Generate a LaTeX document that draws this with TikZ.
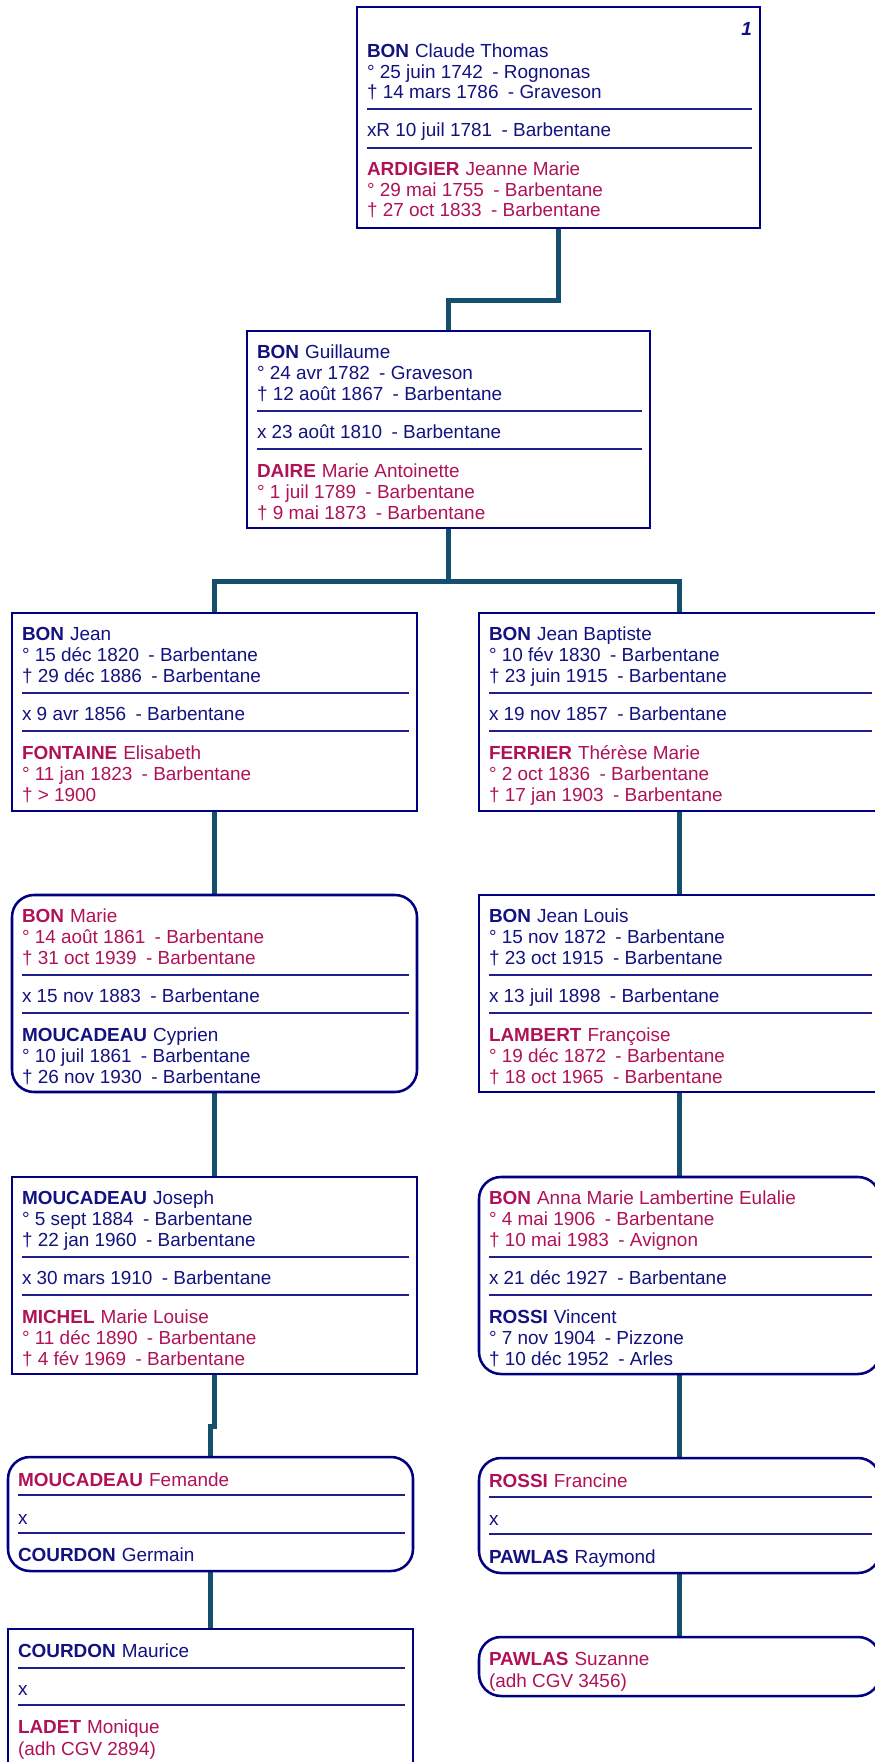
\documentclass[tikz,border=0pt]{standalone}
\usepackage{fontspec}
\setmainfont{Liberation Sans}
\usetikzlibrary{backgrounds}
\definecolor{bordc}{RGB}{0,0,128}
\definecolor{tblue}{RGB}{18,18,128}
\definecolor{tpink}{RGB}{176,18,88}
\definecolor{connc}{RGB}{20,80,110}
\definecolor{sepc}{RGB}{30,30,140}
\newcommand\mainf{\fontsize{14.2}{16}\selectfont}
\newcounter{tlc}
\newcommand\txl[4]{\stepcounter{tlc}\node[txt, text=#1] (t\arabic{tlc}) at (#2,{#3+7}) {#4};}
\newcommand\nm[2]{\textbf{#1}\hspace{4.5pt}#2}
\newcommand\ev[2]{#1\hspace{7pt}-\hspace{4pt}#2}
\newcommand\sepl[3]{\draw[sepline] (#1,#3) -- (#2,#3);}
\tikzset{
  box/.style={draw=bordc, line width=1.9pt, fill=white, inner sep=0pt, outer sep=0pt},
  sqbox/.style={box},
  rbox/.style={box, rounded corners=16.5pt},
  txt/.style={anchor=base west, inner sep=0pt, outer sep=0pt, font=\mainf},
  conn/.style={draw=connc, line width=3.75pt},
  sepline/.style={draw=sepc, line width=1.1pt},
}
\begin{document}
\begin{tikzpicture}[x=0.75pt,y=-0.75pt]
\useasboundingbox (0,0) rectangle (874,1762);
% boxes
\node[sqbox, minimum width=302.25pt, minimum height=165.75pt] (b1) at (558.5,117.5) {};
\node[sqbox, minimum width=302.25pt, minimum height=147.75pt] (b2) at (448.5,429.5) {};
\node[sqbox, minimum width=303.75pt, minimum height=148.5pt] (b3) at (214.5,712) {};
\node[sqbox, minimum width=300.75pt, minimum height=148.5pt] (b4) at (679.5,712) {};
\node[rbox, minimum width=303.75pt, minimum height=147.75pt] (b5) at (214.5,993.5) {};
\node[sqbox, minimum width=300.75pt, minimum height=147.75pt] (b6) at (679.5,993.5) {};
\node[sqbox, minimum width=303.75pt, minimum height=147.75pt] (b7) at (214.5,1275.5) {};
\node[rbox, minimum width=300.75pt, minimum height=147.75pt] (b8) at (679.5,1275.5) {};
\node[rbox, minimum width=303.75pt, minimum height=85.5pt] (b9) at (210.5,1514) {};
\node[rbox, minimum width=300.75pt, minimum height=86.25pt] (b10) at (679.5,1515.5) {};
\node[sqbox, minimum width=303.75pt, minimum height=113.25pt] (b11) at (210.5,1704.5) {};
\node[rbox, minimum width=300.75pt, minimum height=44.25pt] (b12) at (679.5,1666.5) {};
% connectors
\begin{scope}[on background layer]
\draw[conn] (b1.south) -- ++(0,72) -| (b2.north);
\draw[conn] (b2.south) -- ++(0,53) coordinate (j2);
\draw[conn] (b3.north) |- (j2) -| (b4.north);
\draw[conn] (b3.south) -- (b5.north);
\draw[conn] (b4.south) -- (b6.north);
\draw[conn] (b5.south) -- (b7.north);
\draw[conn] (b6.south) -- (b8.north);
\draw[conn] (b7.south) -- ++(0,52) -| (b9.north);
\draw[conn] (b8.south) -- (b10.north);
\draw[conn] (b9.south) -- (b11.north);
\draw[conn] (b10.south) -- (b12.north);
\end{scope}
% box 1
\node[txt, anchor=base east, text=tblue] (n1) at (752,36) {\textbf{\textit{1}}};
\txl{tblue}{367}{51}{\nm{BON}{Claude Thomas}}
\txl{tblue}{367}{72}{\ev{° 25 juin 1742}{Rognonas}}
\txl{tblue}{367}{92}{\ev{† 14 mars 1786}{Graveson}}
\sepl{367}{752}{109}
\txl{tblue}{367}{130}{\ev{xR 10 juil 1781}{Barbentane}}
\sepl{367}{752}{148}
\txl{tpink}{367}{169}{\nm{ARDIGIER}{Jeanne Marie}}
\txl{tpink}{367}{190}{\ev{° 29 mai 1755}{Barbentane}}
\txl{tpink}{367}{210}{\ev{† 27 oct 1833}{Barbentane}}
% box 2
\txl{tblue}{257}{351}{\nm{BON}{Guillaume}}
\txl{tblue}{257}{372}{\ev{° 24 avr 1782}{Graveson}}
\txl{tblue}{257}{393}{\ev{† 12 août 1867}{Barbentane}}
\sepl{257}{642}{411}
\txl{tblue}{257}{431}{\ev{x 23 août 1810}{Barbentane}}
\sepl{257}{642}{449}
\txl{tpink}{257}{470}{\nm{DAIRE}{Marie Antoinette}}
\txl{tpink}{257}{491}{\ev{° 1 juil 1789}{Barbentane}}
\txl{tpink}{257}{512}{\ev{† 9 mai 1873}{Barbentane}}
% box 3
\txl{tblue}{22}{633}{\nm{BON}{Jean}}
\txl{tblue}{22}{654}{\ev{° 15 déc 1820}{Barbentane}}
\txl{tblue}{22}{675}{\ev{† 29 déc 1886}{Barbentane}}
\sepl{22}{409}{693}
\txl{tblue}{22}{713}{\ev{x 9 avr 1856}{Barbentane}}
\sepl{22}{409}{731}
\txl{tpink}{22}{752}{\nm{FONTAINE}{Elisabeth}}
\txl{tpink}{22}{773}{\ev{° 11 jan 1823}{Barbentane}}
\txl{tpink}{22}{794}{† > 1900}
% box 4
\txl{tblue}{489}{633}{\nm{BON}{Jean Baptiste}}
\txl{tblue}{489}{654}{\ev{° 10 fév 1830}{Barbentane}}
\txl{tblue}{489}{675}{\ev{† 23 juin 1915}{Barbentane}}
\sepl{489}{872}{693}
\txl{tblue}{489}{713}{\ev{x 19 nov 1857}{Barbentane}}
\sepl{489}{872}{731}
\txl{tpink}{489}{752}{\nm{FERRIER}{Thérèse Marie}}
\txl{tpink}{489}{773}{\ev{° 2 oct 1836}{Barbentane}}
\txl{tpink}{489}{794}{\ev{† 17 jan 1903}{Barbentane}}
% box 5
\txl{tpink}{22}{915}{\nm{BON}{Marie}}
\txl{tpink}{22}{936}{\ev{° 14 août 1861}{Barbentane}}
\txl{tpink}{22}{957}{\ev{† 31 oct 1939}{Barbentane}}
\sepl{22}{409}{975}
\txl{tblue}{22}{995}{\ev{x 15 nov 1883}{Barbentane}}
\sepl{22}{409}{1013}
\txl{tblue}{22}{1034}{\nm{MOUCADEAU}{Cyprien}}
\txl{tblue}{22}{1055}{\ev{° 10 juil 1861}{Barbentane}}
\txl{tblue}{22}{1076}{\ev{† 26 nov 1930}{Barbentane}}
% box 6
\txl{tblue}{489}{915}{\nm{BON}{Jean Louis}}
\txl{tblue}{489}{936}{\ev{° 15 nov 1872}{Barbentane}}
\txl{tblue}{489}{957}{\ev{† 23 oct 1915}{Barbentane}}
\sepl{489}{872}{975}
\txl{tblue}{489}{995}{\ev{x 13 juil 1898}{Barbentane}}
\sepl{489}{872}{1013}
\txl{tpink}{489}{1034}{\nm{LAMBERT}{Françoise}}
\txl{tpink}{489}{1055}{\ev{° 19 déc 1872}{Barbentane}}
\txl{tpink}{489}{1076}{\ev{† 18 oct 1965}{Barbentane}}
% box 7
\txl{tblue}{22}{1197}{\nm{MOUCADEAU}{Joseph}}
\txl{tblue}{22}{1218}{\ev{° 5 sept 1884}{Barbentane}}
\txl{tblue}{22}{1239}{\ev{† 22 jan 1960}{Barbentane}}
\sepl{22}{409}{1257}
\txl{tblue}{22}{1277}{\ev{x 30 mars 1910}{Barbentane}}
\sepl{22}{409}{1295}
\txl{tpink}{22}{1316}{\nm{MICHEL}{Marie Louise}}
\txl{tpink}{22}{1337}{\ev{° 11 déc 1890}{Barbentane}}
\txl{tpink}{22}{1358}{\ev{† 4 fév 1969}{Barbentane}}
% box 8
\txl{tpink}{489}{1197}{\nm{BON}{Anna Marie Lambertine Eulalie}}
\txl{tpink}{489}{1218}{\ev{° 4 mai 1906}{Barbentane}}
\txl{tpink}{489}{1239}{\ev{† 10 mai 1983}{Avignon}}
\sepl{489}{872}{1257}
\txl{tblue}{489}{1277}{\ev{x 21 déc 1927}{Barbentane}}
\sepl{489}{872}{1295}
\txl{tblue}{489}{1316}{\nm{ROSSI}{Vincent}}
\txl{tblue}{489}{1337}{\ev{° 7 nov 1904}{Pizzone}}
\txl{tblue}{489}{1358}{\ev{† 10 déc 1952}{Arles}}
% box 9
\txl{tpink}{18}{1479}{\nm{MOUCADEAU}{Femande}}
\sepl{18}{405}{1495}
\txl{tblue}{18}{1517}{x}
\sepl{18}{405}{1533}
\txl{tblue}{18}{1554}{\nm{COURDON}{Germain}}
% box 10
\txl{tpink}{489}{1480}{\nm{ROSSI}{Francine}}
\sepl{489}{872}{1497}
\txl{tblue}{489}{1518}{x}
\sepl{489}{872}{1534}
\txl{tblue}{489}{1556}{\nm{PAWLAS}{Raymond}}
% box 11
\txl{tblue}{18}{1650}{\nm{COURDON}{Maurice}}
\sepl{18}{405}{1668}
\txl{tblue}{18}{1688}{x}
\sepl{18}{405}{1705}
\txl{tpink}{18}{1726}{\nm{LADET}{Monique}}
\txl{tpink}{18}{1748}{(adh CGV 2894)}
% box 12
\txl{tpink}{489}{1658}{\nm{PAWLAS}{Suzanne}}
\txl{tpink}{489}{1680}{(adh CGV 3456)}
\end{tikzpicture}
\end{document}
